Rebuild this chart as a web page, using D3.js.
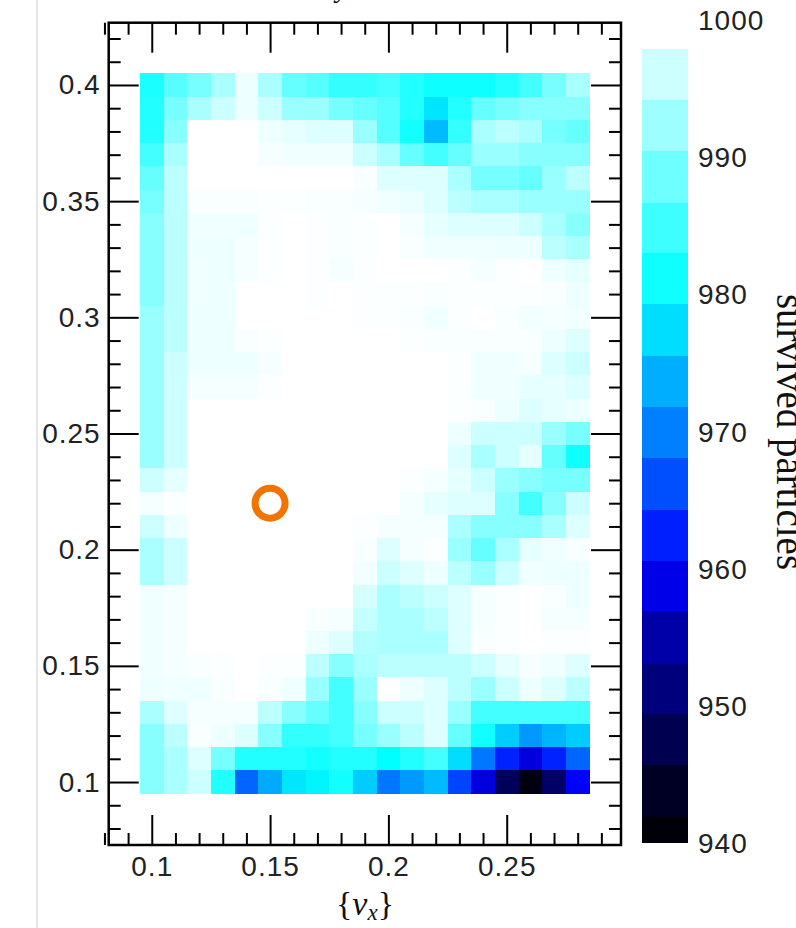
<!DOCTYPE html>
<html><head><meta charset="utf-8">
<script src="https://cdn.jsdelivr.net/npm/d3@7/dist/d3.min.js"></script>
<style>body{margin:0;background:#fff}svg{display:block}</style>
</head><body>
<svg id="chart" width="796" height="928"></svg>
<script>
// ---- data ----
const nuX = [0.10,0.11,0.12,0.13,0.14,0.15,0.16,0.17,0.18,0.19,0.20,0.21,0.22,0.23,0.24,0.25,0.26,0.27,0.28];
const nuY = [0.40,0.39,0.38,0.37,0.36,0.35,0.34,0.33,0.32,0.31,0.30,0.29,0.28,0.27,0.26,0.25,0.24,0.23,0.22,0.21,0.20,0.19,0.18,0.17,0.16,0.15,0.14,0.13,0.12,0.11,0.10];
const survived = [
[982,986.7,989.3,993.3,998.7,993.3,988,986.7,984,984,985.3,982.7,981,981,981,982.7,985.3,989.3,993.3],
[982.7,989.3,993.3,996,998.7,996,992,992,989.3,988,986.7,982.7,978,982.7,988,989.3,990.7,990.7,990.7],
[982.7,990.7,1000,1000,1000,998.7,998,997.3,997.3,992,986.7,981.3,974.7,984,993.3,994.7,993.3,989.3,988],
[985.3,993.3,1000,1000,1000,999.2,998.8,998.8,998.8,996,993.3,988,985.3,988,992,992,990.7,990.7,990.7],
[988,994.7,1000,1000,1000,1000,1000,1000,1000,999.5,997.3,997.3,997.3,993.3,989.3,989.3,988,992,994.7],
[989.3,994.7,999.5,999.5,999.5,999.8,999.8,999.5,999.5,999.2,998.8,998.4,997.3,994.7,993.3,993.3,992,992,992],
[990.7,994.7,998.8,998.8,998.8,999.8,1000,999.8,999.5,999.8,1000,999.2,998,997.3,997.3,997.3,996,993.3,990.7],
[990.7,994.7,998.7,998.7,999.2,999.8,1000,999.8,999.5,999.8,1000,999.5,998.8,998.8,998.8,998.7,998.7,994.7,993.3],
[990.7,994.7,998.8,998.7,999.2,999.8,1000,999.8,999.2,999.8,1000,1000,1000,999.8,999.2,999.8,1000,998.8,998],
[990.7,994.7,998.8,998.7,1000,1000,1000,999.8,1000,999.8,999.8,999.8,999.5,999.8,999.8,999.8,999.8,999.5,998.7],
[992,994.7,998.7,998.7,1000,1000,1000,1000,1000,999.8,999.8,999.5,998.8,999.8,1000,999.5,999,999.2,999],
[992,994.7,998.7,998.7,999.5,999.8,1000,1000,1000,1000,1000,999.8,999.5,999.5,999.5,999.5,999.5,998.7,997.3],
[992,996,998.7,998.7,998.7,999.2,1000,1000,1000,1000,1000,1000,1000,999.8,998.8,998.8,999.2,997.3,996],
[992,996,999.2,999.2,999.2,999.8,1000,1000,1000,1000,1000,1000,1000,999.8,998.8,998.8,998,998,997.3],
[992,996,1000,1000,1000,1000,1000,1000,1000,1000,1000,1000,1000,999.8,999.5,998.7,997.3,998,998.7],
[992,996,1000,1000,1000,1000,1000,1000,1000,1000,1000,1000,1000,998.7,996,996,996,992,989.3],
[992,996,1000,1000,1000,1000,1000,1000,1000,1000,1000,1000,1000,997.3,993.3,996,998,988,981],
[996,998,1000,1000,1000,1000,1000,1000,1000,1000,1000,999.8,999.2,998,996,992,990.7,989.3,989.3],
[999.2,999.8,1000,1000,1000,1000,1000,1000,1000,1000,1000,999.2,998,997.3,997.3,990.7,985.3,990.7,996],
[996,998.7,1000,1000,1000,1000,1000,1000,1000,999.8,999.2,999.2,999.2,993.3,990.7,990.7,990.7,993.3,997.3],
[993.3,996,1000,1000,1000,1000,1000,1000,1000,999.5,997.3,999.2,999.8,992,988,993.3,998,998.8,999.5],
[993.3,996,1000,1000,1000,1000,1000,1000,1000,999,996,997.3,998.7,994.7,992,996,998.8,998.7,998.7],
[998.8,999.2,1000,1000,1000,1000,1000,1000,1000,996.7,993.3,994.7,996,997.3,999.2,999.8,1000,999.5,998.7],
[998.8,999.2,1000,1000,1000,1000,1000,999.5,999.2,995.5,993.3,993.3,994.7,997.3,999.2,999.8,1000,999.2,999.2],
[998.8,999.2,1000,1000,1000,1000,1000,998.7,997.3,994,993.3,993.3,993.3,997.3,999.5,999.8,1000,999.8,999.8],
[998.8,999.2,999.5,999.8,1000,999.8,999.8,994.7,990.7,993.3,994.7,994.7,994.7,994.7,996,998,999.2,998.8,997.3],
[998.7,998.8,998.8,999.5,1000,999.5,998.8,992,985.3,992,1000,998.7,997.3,994.7,992,996,998.7,997.3,994.7],
[993.3,997.3,999.2,999.2,999.2,994.7,990.7,988,985.3,990.7,996,996,997.3,992,985.3,985.3,985.3,985.3,985.3],
[990.7,994.7,999.5,998.7,997.3,990.7,984,984,985.3,989.3,992,994.7,997.3,988,981.3,976,972,974.2,976],
[990.7,993.3,997.3,989.3,982.7,982.7,982.7,981.3,982.7,982.7,980,982.7,985.3,977.3,969.3,962.7,958.2,962.7,968],
[990.7,993.3,996,982.7,968,973.3,978,979.2,981.3,976,969.3,972,974.7,965.3,958.2,948.5,941.8,949.4,960]
];
const xTickValues = [0.1,0.15,0.2,0.25];
const yTickValues = [0.1,0.15,0.2,0.25,0.3,0.35,0.4];
const legendTickValues = [940,950,960,970,980,990,1000];
const legendEdges = [940,941.9,945.7,949.4,953.1,956.9,960.6,964.3,968.1,971.8,975.5,979.3,983.0,986.7,990.5,994.2,997.9];
const markerPoint = [{nx:0.15, ny:0.22}];
const xLabel = "x";
const legendTitle = "survived particles";

// ---- layout ----
const svg = d3.select("#chart");
const L = 108.7, R = 621, T = 22.7, B = 845;
const x = d3.scaleLinear().domain([0.0818, 0.2983]).range([L, R]);
const y = d3.scaleLinear().domain([0.0729, 0.4268]).range([B, T]);
const colour = d3.scaleLinear()
  .domain([940,944,948,952,956,960,980,1000])
  .range(["#000000","#000026","#000055","#000085","#0000b5","#0000ff","#00ffff","#ffffff"])
  .clamp(true);

// faint page divider at left
svg.append("line").attr("x1",37).attr("x2",37).attr("y1",0).attr("y2",928)
  .attr("stroke","#e6e6e6").attr("stroke-width",2);

// cut-off title fragment at top
svg.append("text").attr("x",336).attr("y",-3)
  .attr("font-family","Liberation Serif, Times New Roman, serif").attr("font-style","italic")
  .attr("font-size",28).text("y");

// heatmap cells
const cells = [];
survived.forEach((row,j)=>row.forEach((v,i)=>cells.push({nx:nuX[i], ny:nuY[j], v})));
const hx = 0.005, hy = 0.005;
svg.append("g").selectAll("rect").data(cells).join("rect")
  .attr("x", d=>x(d.nx-hx))
  .attr("y", d=>y(d.ny+hy))
  .attr("width", d=>x(d.nx+hx)-x(d.nx-hx)+0.4)
  .attr("height", d=>y(d.ny-hy)-y(d.ny+hy)+0.4)
  .attr("fill", d=>colour(d.v))
  .attr("shape-rendering","crispEdges");

// marker
svg.append("g").selectAll("circle").data(markerPoint).join("circle")
  .attr("cx",d=>x(d.nx)).attr("cy",d=>y(d.ny)).attr("r",15)
  .attr("fill","none").attr("stroke","#f27400").attr("stroke-width",7);

// axes
const font = "Liberation Sans, Arial, Helvetica, sans-serif";
const fs = 28;
const xMinor = d3.range(8,30).map(k=>k/100).filter(v=>!xTickValues.some(t=>Math.abs(t-v)<1e-6));
const yMinor = d3.range(8,43).map(k=>k/100).filter(v=>!yTickValues.some(t=>Math.abs(t-v)<1e-6));
const fmt = d3.format("");
function styleAxis(g){
  g.select(".domain").remove();
  g.selectAll(".tick line").attr("stroke","#000").attr("stroke-width",2);
  g.selectAll(".tick text").attr("font-family",font).attr("font-size",fs).attr("fill","#222")
    .attr("letter-spacing",1);
}
const majorLen = 30, minorLen = 12;
// bottom
svg.append("g").attr("transform",`translate(0,${B})`)
  .call(d3.axisBottom(x).tickValues(xTickValues).tickSizeInner(-majorLen).tickSizeOuter(0).tickPadding(11).tickFormat(fmt))
  .call(styleAxis);
svg.append("g").attr("transform",`translate(0,${B})`)
  .call(d3.axisBottom(x).tickValues(xMinor).tickSizeInner(-minorLen).tickSizeOuter(0).tickFormat(""))
  .call(styleAxis);
// top
svg.append("g").attr("transform",`translate(0,${T})`)
  .call(d3.axisTop(x).tickValues(xTickValues).tickSizeInner(-majorLen).tickSizeOuter(0).tickFormat(""))
  .call(styleAxis);
svg.append("g").attr("transform",`translate(0,${T})`)
  .call(d3.axisTop(x).tickValues(xMinor).tickSizeInner(-minorLen).tickSizeOuter(0).tickFormat(""))
  .call(styleAxis);
// left
svg.append("g").attr("transform",`translate(${L},0)`)
  .call(d3.axisLeft(y).tickValues(yTickValues).tickSizeInner(-majorLen).tickSizeOuter(0).tickPadding(8).tickFormat(fmt))
  .call(styleAxis);
svg.append("g").attr("transform",`translate(${L},0)`)
  .call(d3.axisLeft(y).tickValues(yMinor).tickSizeInner(-minorLen).tickSizeOuter(0).tickFormat(""))
  .call(styleAxis);
// right
svg.append("g").attr("transform",`translate(${R},0)`)
  .call(d3.axisRight(y).tickValues(yTickValues).tickSizeInner(-majorLen).tickSizeOuter(0).tickFormat(""))
  .call(styleAxis);
svg.append("g").attr("transform",`translate(${R},0)`)
  .call(d3.axisRight(y).tickValues(yMinor).tickSizeInner(-minorLen).tickSizeOuter(0).tickFormat(""))
  .call(styleAxis);

// frame
svg.append("rect").attr("x",L).attr("y",T).attr("width",R-L).attr("height",B-T)
  .attr("fill","none").attr("stroke","#000").attr("stroke-width",2.5);

// x axis title {ν_x}
const xt = svg.append("text").attr("x",365).attr("y",915).attr("text-anchor","middle")
  .attr("font-family","Liberation Serif, Times New Roman, serif").attr("font-size",34).attr("fill","#111");
xt.append("tspan").text("{");
xt.append("tspan").attr("font-style","italic").text("ν");
xt.append("tspan").attr("font-style","italic").attr("font-size",23).attr("dy",5).text(xLabel);
xt.append("tspan").attr("dy",-5).text("}");

// legend
const yL = d3.scaleLinear().domain([940,1000]).range([843,20]);
const lx = 642, lw = 46.3;
const bands = d3.pairs(legendEdges).map(([a,b])=>({a,b}));
svg.append("g").selectAll("rect").data(bands).join("rect")
  .attr("x",lx).attr("width",lw)
  .attr("y",d=>yL(d.b)).attr("height",d=>yL(d.a)-yL(d.b)+0.3)
  .attr("fill",d=>colour((d.a+d.b)/2))
  .attr("shape-rendering","crispEdges");
svg.append("g").selectAll("text").data(legendTickValues).join("text")
  .attr("x",698).attr("y",d=>yL(d)).attr("dy","0.36em")
  .attr("font-family",font).attr("font-size",fs).attr("fill","#222").attr("letter-spacing",1)
  .text(d=>d);
svg.append("text")
  .attr("transform",`translate(777,432) rotate(90)`)
  .attr("text-anchor","middle")
  .attr("font-family","Liberation Serif, Times New Roman, serif").attr("font-size",39).attr("fill","#111")
  .text(legendTitle);
</script>
</body></html>
